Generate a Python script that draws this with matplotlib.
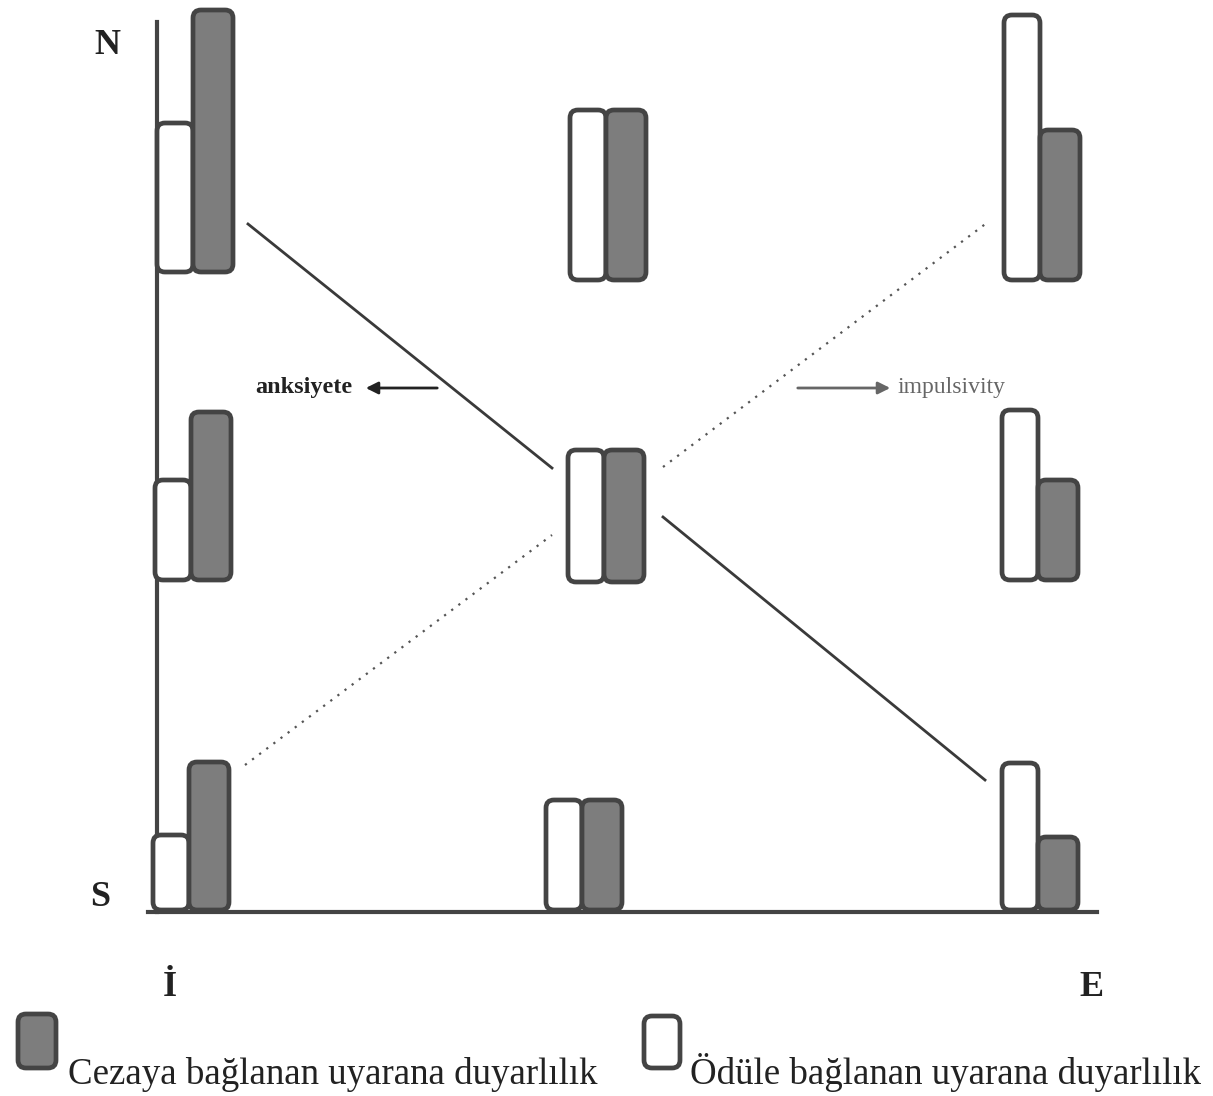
import matplotlib
matplotlib.use("Agg")
import matplotlib.pyplot as plt
from matplotlib.patches import FancyBboxPatch

plt.rcParams['font.family'] = ['Liberation Serif', 'DejaVu Serif']

# bar pairs: left edge, base, white top, gray top (units above the S axis)
pair_left  = [0,   413, 847, -2,  411, 845, -4,  389, 845]
pair_base  = [640, 632, 632, 332, 330, 332, 2,   2,   2]
white_top  = [789, 802, 897, 432, 462, 502, 77,  112, 149]
gray_top   = [902, 802, 782, 500, 462, 432, 150, 112, 75]
white_w = 36
gray_w = 40

# connecting lines (solid / dotted)
solid_lines = [((91, 688), (395, 444)), ((506, 395), (828, 132))]
dotted_lines = [((506, 445), (831, 690)), ((88, 147), (395, 377))]

edge = '#444444'
fill = '#7d7d7d'

fig = plt.figure(figsize=(12.13, 10.96), dpi=100)
ax = fig.add_axes([0, 0, 1, 1])
ax.set_xlim(-157, 1213 - 157)
ax.set_ylim(912 - 1096, 912)
ax.axis('off')

def rbox(x, y0, w, h, fc, ec=edge):
    p = FancyBboxPatch((x, y0), w, h, boxstyle="round,pad=0,rounding_size=8",
                       fc=fc, ec=ec, lw=3.4, zorder=3)
    ax.add_patch(p)

for i in range(len(pair_left)):
    x = pair_left[i]
    b = pair_base[i]
    rbox(x, b, white_w, white_top[i] - b, 'white')
    rbox(x + white_w, b, gray_w, gray_top[i] - b, fill)

# axes
ax.plot([0, 0], [0, 890], color=edge, lw=3, zorder=2)
ax.plot([-9, 940], [0, 0], color=edge, lw=3, zorder=2)

for (p0, p1) in solid_lines:
    ax.plot([p0[0], p1[0]], [p0[1], p1[1]], color='#3a3a3a', lw=2, zorder=1)
for (p0, p1) in dotted_lines:
    ax.plot([p0[0], p1[0]], [p0[1], p1[1]], color='#555555', lw=1.6,
            ls=(0, (1, 3)), zorder=1)

# arrows
ax.annotate('', xy=(206, 524), xytext=(283, 524),
            arrowprops=dict(arrowstyle='-|>', color='#222222', lw=2, mutation_scale=18))
ax.text(98, 524, 'anksiyete', fontsize=17.5, fontweight='bold', color='#222222',
        va='center', ha='left')
ax.annotate('', xy=(736, 524), xytext=(638, 524),
            arrowprops=dict(arrowstyle='-|>', color='#666666', lw=2, mutation_scale=18))
ax.text(741, 524, 'impulsivity', fontsize=17, color='#666666', va='center', ha='left')

# axis letters
ax.text(-50, 866, 'N', fontsize=26, fontweight='bold', ha='center', va='center', color='#222222')
ax.text(-57, 14, 'S', fontsize=26, fontweight='bold', ha='center', va='center', color='#222222')
ax.text(13, -76, 'İ', fontsize=26, fontweight='bold', ha='center', va='center', color='#222222')
ax.text(935, -76, 'E', fontsize=26, fontweight='bold', ha='center', va='center', color='#222222')

# legend
rbox(-139, -156, 38, 54, fill)
ax.text(-89, -172, 'Cezaya bağlanan uyarana duyarlılık', fontsize=26.6, ha='left',
        va='baseline', color='#222222')
rbox(487, -156, 36, 52, 'white')
ax.text(533, -172, 'Ödüle bağlanan uyarana duyarlılık', fontsize=26.6, ha='left',
        va='baseline', color='#222222')

fig.savefig('out.png', dpi=100)
